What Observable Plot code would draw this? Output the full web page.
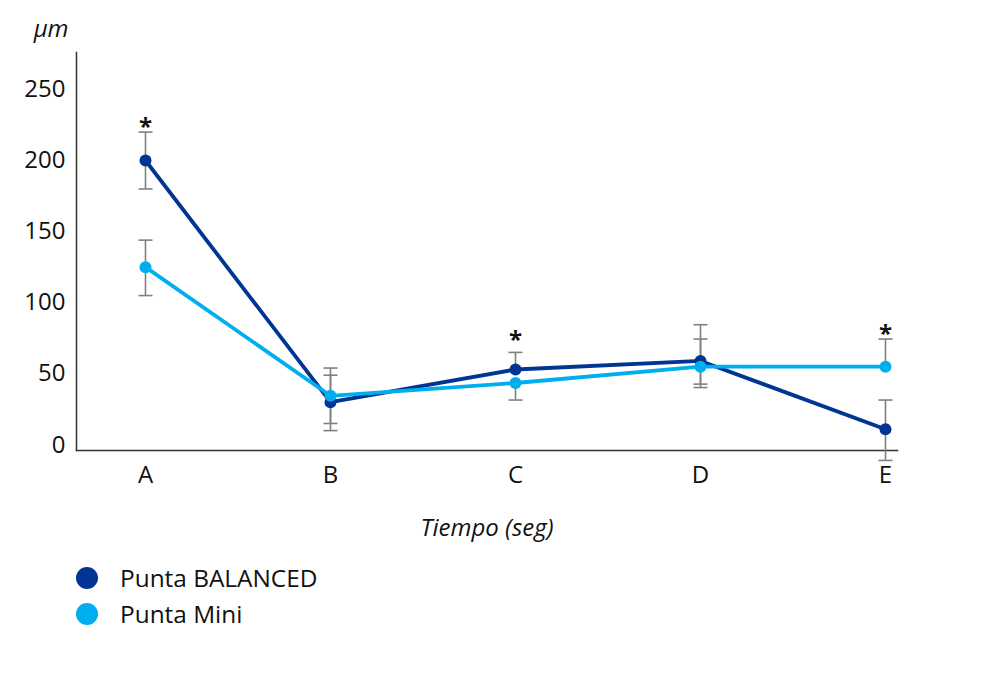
<!DOCTYPE html>
<html>
<head>
<meta charset="utf-8">
<script src="https://cdn.jsdelivr.net/npm/d3@7"></script>
<script src="https://cdn.jsdelivr.net/npm/@observablehq/plot@0.6"></script>
<style>
  html, body { margin: 0; padding: 0; background: #fff; }
  #wrap { position: relative; width: 984px; height: 692px; font-family: "Open Sans", sans-serif; }
  #chart { position: absolute; left: 0; top: 0; }
  .leg { position: absolute; left: 76px; display: flex; align-items: center; font-size: 24.4px; color: #111; }
  .leg .sw { width: 22px; height: 22px; border-radius: 50%; margin-right: 22px; }
</style>
</head>
<body>
<div id="wrap">
  <div id="chart"></div>
  <div class="leg" style="top:561px"><span class="sw" style="background:#003594"></span>Punta BALANCED</div>
  <div class="leg" style="top:597px"><span class="sw" style="background:#00aeef"></span>Punta Mini</div>
</div>
<script>
const categories = ["A", "B", "C", "D", "E"];
const seriesNames = ["Punta BALANCED", "Punta Mini"];
const balanced = [200, 30, 53, 59, 11];
const mini = [125, 34.5, 43.5, 55, 55];
const balancedHigh = [220, 49, 65, 84.5, 31.5];
const balancedLow = [180, 10, null, 42.7, -11];
const miniHigh = [144, 54, null, 74.4, 74.4];
const miniLow = [105, 15, 31.5, 40.3, null];
const starCats = ["A", "C", "E"];
const starLevels = [227, 77, 81];
const yTicks = [0, 50, 100, 150, 200, 250];
const colors = ["#003594", "#00aeef"];

const points = [];
const whiskers = [];
const caps = [];
[[balanced, balancedHigh, balancedLow], [mini, miniHigh, miniLow]].forEach(([vals, hi, lo], s) => {
  categories.forEach((c, i) => {
    points.push({series: seriesNames[s], cat: c, v: vals[i]});
    [hi[i], lo[i]].forEach(e => {
      if (e != null) {
        whiskers.push({cat: c, y1: vals[i], y2: e});
        caps.push({cat: c, y: e});
      }
    });
  });
});
const stars = starCats.map((c, i) => ({cat: c, y: starLevels[i]}));

const capSymbol = {
  draw(context, size) {
    const w = Math.sqrt(size / Math.PI);
    context.moveTo(-w, 0);
    context.lineTo(w, 0);
  }
};

const chart = Plot.plot({
  width: 984,
  height: 560,
  marginLeft: 76,
  marginRight: 87,
  marginTop: 52,
  marginBottom: 110,
  style: {fontFamily: "Open Sans, sans-serif", fontSize: "24px", color: "#111", background: "transparent"},
  x: {type: "point", domain: categories, range: [144, 886], padding: 0},
  y: {domain: [-4, 276]},
  color: {domain: seriesNames, range: colors},
  marks: [
    Plot.axisY({ticks: yTicks, tickSize: 0, tickPadding: 11, label: null, fontSize: 24}),
    Plot.axisX({tickSize: 0, tickPadding: 15, label: null, fontSize: 24}),
    Plot.frame({anchor: "left", stroke: "#333", strokeWidth: 1.5}),
    Plot.frame({anchor: "bottom", stroke: "#333", strokeWidth: 1.5}),
    Plot.ruleX(whiskers, {x: "cat", y1: "y1", y2: "y2", stroke: "#808080", strokeWidth: 1.6}),
    Plot.dot(caps, {x: "cat", y: "y", r: 7, symbol: capSymbol, fill: "none", stroke: "#808080", strokeWidth: 1.6}),
    Plot.line(points, {x: "cat", y: "v", z: "series", stroke: "series", strokeWidth: 3.8}),
    Plot.dot(points, {x: "cat", y: "v", fill: "series", r: 6}),
    Plot.text(stars, {x: "cat", y: "y", text: () => "*", fontWeight: "bold", fontSize: 24, fill: "#111", dy: 5}),
    Plot.text(["µm"], {frameAnchor: "top-left", textAnchor: "end", dx: -8, dy: -33, fontStyle: "italic", fontSize: 24, fill: "#111"}),
    Plot.text(["Tiempo (seg)"], {frameAnchor: "bottom", dy: 85, fontStyle: "italic", fontSize: 24, fill: "#111"})
  ]
});
document.getElementById("chart").appendChild(chart);
</script>
</body>
</html>
